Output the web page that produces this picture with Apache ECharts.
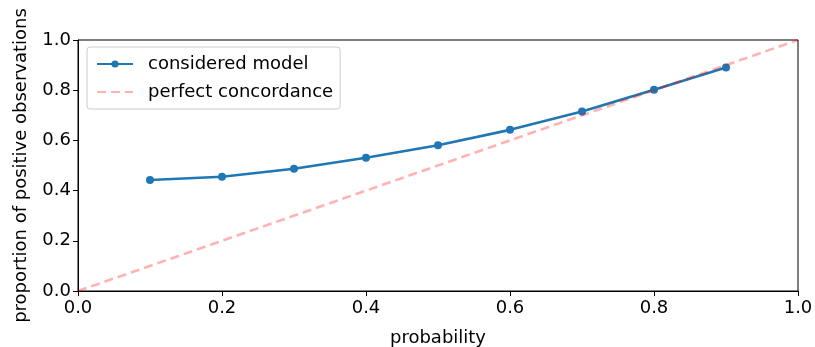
<!DOCTYPE html>
<html>
<head>
<meta charset="utf-8">
<script src="https://cdn.jsdelivr.net/npm/echarts@6/dist/echarts.min.js"></script>
<style>
  html, body { margin: 0; padding: 0; background: #fff; }
  #chart { width: 815px; height: 347px; }
</style>
</head>
<body>
<div id="chart"></div>
<script>
// calibration curve values
const probabilities = [0.1, 0.2, 0.3, 0.4, 0.5, 0.6, 0.7, 0.8, 0.9];
const observed = [0.442, 0.455, 0.487, 0.531, 0.581, 0.642, 0.715, 0.802, 0.89];
const diagonal = [[0, 0], [1, 1]];

const chart = echarts.init(document.getElementById('chart'));
const font = 'DejaVu Sans';
const fs = 18;

const axisCommon = {
  type: 'value',
  min: 0,
  max: 1,
  interval: 0.2,
  nameLocation: 'middle',
  nameTextStyle: { fontFamily: font, fontSize: fs, color: '#000' },
  axisLine: { show: true, lineStyle: { color: '#000', width: 1 } },
  axisTick: { show: true, inside: false, length: 5, lineStyle: { color: '#000' } },
  axisLabel: {
    fontFamily: font, fontSize: fs, color: '#000', margin: 7,
    formatter: (v) => v.toFixed(1)
  },
  splitLine: { show: false }
};

const option = {
  backgroundColor: '#fff',
  animation: false,
  grid: {
    left: 78, right: 17, top: 40, bottom: 56,
    outerBoundsMode: 'none',
    containLabel: false,
    show: true, borderColor: '#000', borderWidth: 1
  },
  xAxis: Object.assign({}, axisCommon, {
    name: 'probability',
    nameGap: 38,
    axisLabel: Object.assign({}, axisCommon.axisLabel, { margin: 8 })
  }),
  yAxis: Object.assign({}, axisCommon, {
    name: 'proportion of positive observations',
    nameGap: 48
  }),
  legend: {
    orient: 'vertical',
    left: 87,
    top: 47,
    padding: [8, 7, 8, 9],
    itemGap: 10,
    itemWidth: 36,
    itemHeight: 9,
    backgroundColor: '#fff',
    borderColor: '#ccc',
    borderWidth: 1,
    borderRadius: 3,
    textStyle: { fontFamily: font, fontSize: fs, color: '#000', padding: [0, 0, 0, 10] },
    data: [
      { name: 'considered model' },
      { name: 'perfect concordance', itemStyle: { opacity: 0 } }
    ]
  },
  series: [
    {
      name: 'perfect concordance',
      type: 'line',
      data: diagonal,
      symbol: 'none',
      lineStyle: { color: 'rgba(255,0,0,0.3)', width: 2.6, type: [9, 5] },
      itemStyle: { color: 'rgba(255,0,0,0.3)' },
      z: 3
    },
    {
      name: 'considered model',
      type: 'line',
      data: probabilities.map((p, i) => [p, observed[i]]),
      symbol: 'circle',
      symbolSize: 8,
      lineStyle: { color: '#1f77b4', width: 2.6 },
      itemStyle: { color: '#1f77b4' },
      z: 2
    }
  ]
};

chart.setOption(option);
</script>
</body>
</html>
